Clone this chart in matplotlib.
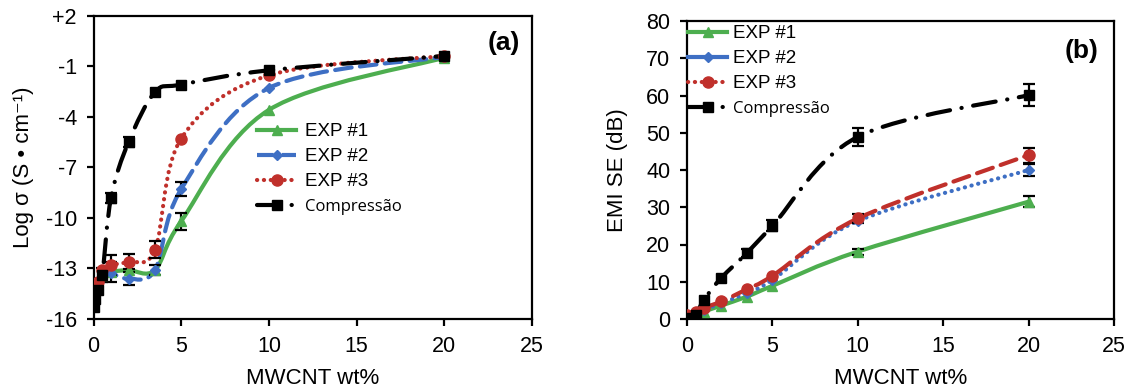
import matplotlib
matplotlib.use('Agg')
import matplotlib.pyplot as plt
import numpy as np
from matplotlib.path import Path
from matplotlib.patches import PathPatch
from matplotlib.lines import Line2D

plt.rcParams['font.family'] = ['Liberation Sans', 'DejaVu Sans']

# ---- panel (a): log conductivity ----
x_exp_a = [0, 0.25, 0.5, 1, 2, 3.5, 5, 10, 20]
exp1_a = [-14.9, -14.0, -13.4, -13.2, -13.1, -13.1, -10.2, -3.6, -0.5]
exp2_a = [-14.8, -14.0, -13.3, -13.3, -13.6, -13.1, -8.3, -2.3, -0.45]
exp3_a = [-14.5, -13.8, -13.1, -12.8, -12.6, -11.9, -5.3, -1.55, -0.4]
exp1_a_err = [0, 0, 0, 0.6, 0, 0, 0.5, 0, 0]
exp2_a_err = [0, 0, 0, 0, 0.4, 0.3, 0.4, 0, 0]
exp3_a_err = [0, 0, 0, 0.6, 0.45, 0.5, 0, 0, 0]
x_comp_a = [0, 0.1, 0.25, 0.5, 1, 2, 3.5, 5, 10, 20]
comp_a = [-15.3, -14.8, -14.3, -13.4, -8.8, -5.5, -2.55, -2.1, -1.25, -0.4]
comp_a_err = [0, 0, 0, 0.4, 0.3, 0.3, 0, 0, 0, 0]

yticks_a = [-16, -13, -10, -7, -4, -1, 2]
yticklabels_a = ['-16', '-13', '-10', '-7', '-4', '-1', '+2']

# ---- panel (b): EMI shielding ----
x_b = [0, 0.5, 1, 2, 3.5, 5, 10, 20]
exp1_b = [0.5, 1.0, 2.0, 3.6, 6.0, 8.9, 18.1, 31.5]
exp2_b = [0.8, 1.5, 2.5, 4.2, 7.0, 10.5, 26.3, 40.0]
exp3_b = [1.0, 1.8, 3.0, 4.7, 8.0, 11.6, 27.0, 44.0]
comp_b = [0.2, 1.2, 5.2, 11.0, 17.7, 25.0, 48.9, 60.1]
exp1_b_err = [0, 0, 0, 0, 0, 0, 0.8, 1.5]
exp2_b_err = [0, 0, 0, 0, 0, 0, 0, 1.5]
exp3_b_err = [0, 0, 0, 0, 0, 0, 1.2, 2.0]
comp_b_err = [0, 0, 0, 0, 1.0, 1.5, 2.5, 3.0]

GREEN = '#4dae4f'
BLUE = '#3e6fc4'
RED = '#c0302b'
BLACK = '#000000'

SOLID = '-'
DASHED = (0, (4.0, 2.0))
DOTTED = (0, (0.05, 1.6))
DASHDOT = (0, (5.5, 2.8, 0.05, 2.8))


def smooth_path(x, y):
    # bezier spline through the points (like a spreadsheet "smoothed line")
    pts = np.column_stack([x, y]).astype(float)
    verts = [pts[0]]
    codes = [Path.MOVETO]
    n = len(pts)
    for i in range(n - 1):
        p0 = pts[i - 1] if i > 0 else pts[i]
        p1 = pts[i]
        p2 = pts[i + 1]
        p3 = pts[i + 2] if i + 2 < n else pts[i + 1]
        verts += [p1 + (p2 - p0) / 6, p2 - (p3 - p1) / 6, p2]
        codes += [Path.CURVE4] * 3
    return Path(verts, codes)


def draw_series(ax, x, y, err, color, ls, marker, ms, lw=3.0):
    patch = PathPatch(smooth_path(x, y), fill=False, edgecolor=color, lw=lw,
                      linestyle=ls, capstyle='round', zorder=2)
    ax.add_patch(patch)
    xs = [xi for xi, e in zip(x, err) if e > 0]
    ys = [yi for yi, e in zip(y, err) if e > 0]
    es = [e for e in err if e > 0]
    if es:
        ax.errorbar(xs, ys, yerr=es, fmt='none', ecolor='black', elinewidth=1.6,
                    capsize=4, capthick=1.6, zorder=3)
    ax.plot(x, y, ls='none', marker=marker, ms=ms, color=color, mec=color, zorder=4)


def style_axes(ax):
    for s in ax.spines.values():
        s.set_linewidth(1.6)
    ax.tick_params(direction='out', length=5, width=1.6, labelsize=15.5, pad=7)


fig = plt.figure(figsize=(11.33, 3.89), dpi=100)
W, H = 1133, 389
axA = fig.add_axes([93.5 / W, (H - 319) / H, (532 - 93.5) / W, (319 - 15.5) / H])
axB = fig.add_axes([687 / W, (H - 319) / H, (1114 - 687) / W, (319 - 21) / H])

# panel (a)
draw_series(axA, x_exp_a, exp1_a, exp1_a_err, GREEN, SOLID, '^', 7)
draw_series(axA, x_exp_a, exp2_a, exp2_a_err, BLUE, DASHED, 'D', 5.5)
draw_series(axA, x_exp_a, exp3_a, exp3_a_err, RED, DOTTED, 'o', 8)
draw_series(axA, x_comp_a, comp_a, comp_a_err, BLACK, DASHDOT, 's', 7.5)
axA.set_xlim(0, 25)
axA.set_ylim(-16, 2)
axA.set_xticks([0, 5, 10, 15, 20, 25])
axA.set_yticks(yticks_a)
axA.set_yticklabels(yticklabels_a)
style_axes(axA)
axA.set_xlabel('MWCNT wt%', fontsize=16, labelpad=8)
axA.set_ylabel('Log σ (S • cm⁻¹)', fontsize=16, labelpad=8)
axA.text(0.935, 0.91, '(a)', transform=axA.transAxes, fontsize=19,
         fontweight='bold', ha='center', va='center')

handles_a = [
    Line2D([], [], color=GREEN, lw=3, ls=SOLID, marker='^', ms=7),
    Line2D([], [], color=BLUE, lw=3, ls=DASHED, marker='D', ms=5.5),
    Line2D([], [], color=RED, lw=3, ls=DOTTED, marker='o', ms=8, dash_capstyle='round'),
    Line2D([], [], color=BLACK, lw=3, ls=DASHDOT, marker='s', ms=7.5, dash_capstyle='round'),
]
labels = ['EXP #1', 'EXP #2', 'EXP #3', 'Compressão']
legA = axA.legend(handles_a, labels, loc='upper left',
                  bbox_to_anchor=(257 / W, 1 - 123 / H), bbox_transform=fig.transFigure,
                  frameon=False, fontsize=13.5, handlelength=2.1, handletextpad=0.45,
                  labelspacing=0.42, borderpad=0, borderaxespad=0)
legA.get_texts()[3].set_fontfamily('Open Sans')
legA.get_texts()[3].set_fontsize(12)

# panel (b)
draw_series(axB, x_b, exp1_b, exp1_b_err, GREEN, SOLID, '^', 7)
draw_series(axB, x_b, exp2_b, exp2_b_err, BLUE, DOTTED, 'D', 5.5)
draw_series(axB, x_b, exp3_b, exp3_b_err, RED, DASHED, 'o', 8)
draw_series(axB, x_b, comp_b, comp_b_err, BLACK, DASHDOT, 's', 7.5)
axB.set_xlim(0, 25)
axB.set_ylim(0, 80)
axB.set_xticks([0, 5, 10, 15, 20, 25])
axB.set_yticks(range(0, 81, 10))
style_axes(axB)
axB.set_xlabel('MWCNT wt%', fontsize=16, labelpad=8)
axB.set_ylabel('EMI SE (dB)', fontsize=16, labelpad=13)
axB.text(0.925, 0.9, '(b)', transform=axB.transAxes, fontsize=19,
         fontweight='bold', ha='center', va='center')

handles_b = [
    Line2D([], [], color=GREEN, lw=3, ls=SOLID, marker='^', ms=7),
    Line2D([], [], color=BLUE, lw=3, ls=SOLID, marker='D', ms=5.5),
    Line2D([], [], color=RED, lw=3, ls=DOTTED, marker='o', ms=8, dash_capstyle='round'),
    Line2D([], [], color=BLACK, lw=3, ls=DASHDOT, marker='s', ms=7.5, dash_capstyle='round'),
]
legB = axB.legend(handles_b, labels, loc='upper left',
                  bbox_to_anchor=(688 / W, 1 - 25 / H), bbox_transform=fig.transFigure,
                  frameon=False, fontsize=13.5, handlelength=2.1, handletextpad=0.3,
                  labelspacing=0.42, borderpad=0, borderaxespad=0)
legB.get_texts()[3].set_fontfamily('Open Sans')
legB.get_texts()[3].set_fontsize(12)

fig.savefig('out.png', dpi=100)
